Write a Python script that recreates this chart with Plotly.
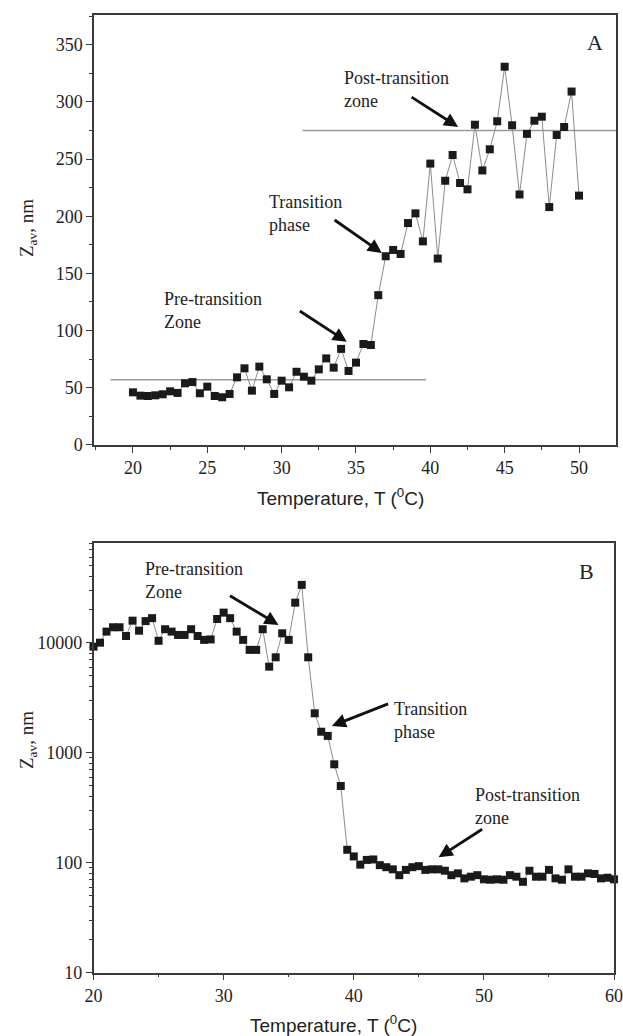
import plotly.graph_objects as go

# ---------------- data ----------------
temp_a = [20.0, 20.5, 21.0, 21.5, 22.0, 22.5, 23.0, 23.5, 24.0, 24.5,
          25.0, 25.5, 26.0, 26.5, 27.0, 27.5, 28.0, 28.5, 29.0, 29.5,
          30.0, 30.5, 31.0, 31.5, 32.0, 32.5, 33.0, 33.5, 34.0, 34.5,
          35.0, 35.5, 36.0, 36.5, 37.0, 37.5, 38.0, 38.5, 39.0, 39.5,
          40.0, 40.5, 41.0, 41.5, 42.0, 42.5, 43.0, 43.5, 44.0, 44.5,
          45.0, 45.5, 46.0, 46.5, 47.0, 47.5, 48.0, 48.5, 49.0, 49.5,
          50.0]
zav_a = [46, 43.1, 42.8, 43.4, 44.3, 46.9, 45.5, 53.9, 55, 45.2,
         51, 42.8, 41.7, 44.6, 59.1, 67, 47.5, 68.5, 57.4, 44.6,
         56.2, 50.4, 64, 59.7, 56.2, 66.1, 75.7, 67.6, 84, 64.7,
         72, 88.3, 87.4, 131, 165, 170.5, 167, 194, 202.5, 178,
         246, 163, 231, 253.5, 229, 223.5, 280, 240, 258.5, 283,
         330.7, 279.5, 219, 272, 283.5, 287, 208, 271, 278, 309,
         218]

temp_b = [20.0, 20.5, 21.0, 21.5, 22.0, 22.5, 23.0, 23.5, 24.0, 24.5,
          25.0, 25.5, 26.0, 26.5, 27.0, 27.5, 28.0, 28.5, 29.0, 29.5,
          30.0, 30.5, 31.0, 31.5, 32.0, 32.5, 33.0, 33.5, 34.0, 34.5,
          35.0, 35.5, 36.0, 36.5, 37.0, 37.5, 38.0, 38.5, 39.0, 39.5,
          40.0, 40.5, 41.0, 41.5, 42.0, 42.5, 43.0, 43.5, 44.0, 44.5,
          45.0, 45.5, 46.0, 46.5, 47.0, 47.5, 48.0, 48.5, 49.0, 49.5,
          50.0, 50.5, 51.0, 51.5, 52.0, 52.5, 53.0, 53.5, 54.0, 54.5,
          55.0, 55.5, 56.0, 56.5, 57.0, 57.5, 58.0, 58.5, 59.0, 59.5,
          60.0]
zav_b = [9200, 10000, 12600, 13800, 13800, 11500, 15850, 12850, 15700, 16700,
         10400, 13250, 12600, 11750, 11750, 13250, 11500, 10600, 10700, 16400,
         18750, 16700, 12600, 10600, 8600, 8600, 13250, 6050, 7360, 12160,
         10600, 23100, 33500, 7360, 2280, 1550, 1420, 784, 498, 131,
         114, 96, 106, 107, 95, 91, 87, 77, 86, 91,
         93, 86, 87, 87, 84.5, 77, 80, 72, 74.6, 77,
         70.6, 70, 70.6, 70, 77, 74.6, 67, 84.5, 74.6, 74.6,
         86, 72, 70, 87, 74.6, 74.6, 80, 79, 72, 73,
         70.6]

# reference levels in panel A
pre_level_x = [18.5, 39.7]
pre_level_y = [57, 57]
post_level_x = [31.4, 52.5]
post_level_y = [275, 275]

x_ticks_a = [20, 25, 30, 35, 40, 45, 50]
y_ticks_a = [0, 50, 100, 150, 200, 250, 300, 350]
x_ticks_b = [20, 30, 40, 50, 60]
y_ticks_b = [10, 100, 1000, 10000]
y_ticktext_b = ["10", "100", "1000", "10000"]

x_title = "Temperature, T (<sup>0</sup>C)"
y_title = "Z<sub>av</sub>, nm"

SERIF = "Liberation Serif"
SANS = "Liberation Sans"
INK = "#1a1a1a"
AXIS = "#3a3a3a"
TXT = "#222"

fig = go.Figure()

# Panel A
fig.add_trace(go.Scatter(x=pre_level_x, y=pre_level_y, mode="lines",
                         line=dict(color="#9a9a9a", width=1.5), xaxis="x", yaxis="y",
                         hoverinfo="skip"))
fig.add_trace(go.Scatter(x=post_level_x, y=post_level_y, mode="lines",
                         line=dict(color="#9a9a9a", width=1.5), xaxis="x", yaxis="y",
                         hoverinfo="skip"))
fig.add_trace(go.Scatter(x=temp_a, y=zav_a, mode="lines+markers",
                         line=dict(color="#8c8c8c", width=1),
                         marker=dict(symbol="square", size=8, color=INK),
                         xaxis="x", yaxis="y", cliponaxis=False))

# Panel B
fig.add_trace(go.Scatter(x=temp_b, y=zav_b, mode="lines+markers",
                         line=dict(color="#8c8c8c", width=1),
                         marker=dict(symbol="square", size=8, color=INK),
                         xaxis="x2", yaxis="y2", cliponaxis=False))

axis_common = dict(showline=True, mirror=True, linecolor=AXIS, linewidth=1.5,
                   showgrid=False, zeroline=False, ticks="outside", ticklen=6,
                   tickwidth=1.2, tickcolor=AXIS, automargin=False,
                   ticklabeloverflow="allow",
                   tickfont=dict(family=SERIF, size=18, color=TXT))

fig.update_layout(
    width=623, height=1036,
    margin=dict(l=0, r=0, t=0, b=0, autoexpand=False),
    plot_bgcolor="white", paper_bgcolor="white",
    showlegend=False,
    xaxis=dict(domain=[0.1509, 0.9888], anchor="y", range=[17.38, 52.49],
               tickmode="array", tickvals=x_ticks_a,
               minor=dict(dtick=2.5, tick0=20, ticks="outside", ticklen=3,
                          tickcolor=AXIS, showgrid=False),
               **axis_common),
    yaxis=dict(domain=[0.5705, 0.9855], anchor="x", range=[0, 375.9],
               tickmode="array", tickvals=y_ticks_a,
               minor=dict(dtick=25, tick0=0, ticks="outside", ticklen=3,
                          tickcolor=AXIS, showgrid=False),
               **axis_common),
    xaxis2=dict(domain=[0.1501, 0.9856], anchor="y2", range=[20, 60],
                tickmode="array", tickvals=x_ticks_b,
                minor=dict(dtick=5, tick0=20, ticks="outside", ticklen=3,
                           tickcolor=AXIS, showgrid=False),
                **axis_common),
    yaxis2=dict(domain=[0.0611, 0.4762], anchor="x2", type="log", range=[1, 4.909],
                tickmode="array", tickvals=y_ticks_b, ticktext=y_ticktext_b,
                minor=dict(dtick="D1", ticks="outside", ticklen=3,
                           tickcolor=AXIS, showgrid=False),
                **axis_common),
)

# axis titles (placed as paper annotations, as in the original layout)
fig.add_annotation(x=340 / 623, y=1 - 497 / 1036, xref="paper", yref="paper",
                   text=x_title, showarrow=False, xanchor="center", yanchor="middle",
                   font=dict(family=SANS, size=19, color=TXT))
fig.add_annotation(x=333 / 623, y=1 - 1024 / 1036, xref="paper", yref="paper",
                   text=x_title, showarrow=False, xanchor="center", yanchor="middle",
                   font=dict(family=SANS, size=19, color=TXT))
fig.add_annotation(x=28 / 623, y=1 - 228 / 1036, xref="paper", yref="paper",
                   text=y_title, showarrow=False, textangle=-90,
                   xanchor="center", yanchor="middle",
                   font=dict(family=SERIF, size=19, color=TXT))
fig.add_annotation(x=28 / 623, y=1 - 740 / 1036, xref="paper", yref="paper",
                   text=y_title, showarrow=False, textangle=-90,
                   xanchor="center", yanchor="middle",
                   font=dict(family=SERIF, size=19, color=TXT))

def label(x, y, text, xr, yr, size=18, xanchor="left"):
    fig.add_annotation(x=x, y=y, xref=xr, yref=yr, text=text, showarrow=False,
                       xanchor=xanchor, yanchor="middle", align="left",
                       font=dict(family=SERIF, size=size, color=TXT))

def arrow(x, y, ax, ay, xr, yr):
    fig.add_annotation(x=x, y=y, ax=ax, ay=ay, xref=xr, yref=yr, axref=xr, ayref=yr,
                       text="", showarrow=True, arrowhead=2, arrowsize=1,
                       arrowwidth=2.8, arrowcolor="#111", standoff=0, startstandoff=0)

# Panel A annotations
label(51.1, 352, "A", "x", "y", size=22, xanchor="center")
label(34.06, 311, "Post-transition<br>zone", "x", "y")
arrow(41.87, 278, 38.64, 305, "x", "y")
label(29.0, 202, "Transition<br>phase", "x", "y")
arrow(36.74, 167.8, 33.46, 197.6, "x", "y")
label(21.93, 118, "Pre-transition<br>Zone", "x", "y")
arrow(34.38, 90.3, 31.12, 118, "x", "y")

# Panel B annotations (log axis -> log10 units)
label(57.88, 4.643, "B", "x2", "y2", size=22, xanchor="center")
label(23.83, 4.561, "Pre-transition<br>Zone", "x2", "y2")
arrow(34.22, 4.161, 30.37, 4.434, "x2", "y2")
label(42.94, 3.288, "Transition<br>phase", "x2", "y2")
arrow(38.32, 3.243, 42.75, 3.449, "x2", "y2")
label(49.17, 2.515, "Post-transition<br>zone", "x2", "y2")
arrow(46.52, 2.049, 49.98, 2.313, "x2", "y2")

fig.write_html("out.html", config={"displayModeBar": False},
               post_script="document.body.style.margin='0px';")
